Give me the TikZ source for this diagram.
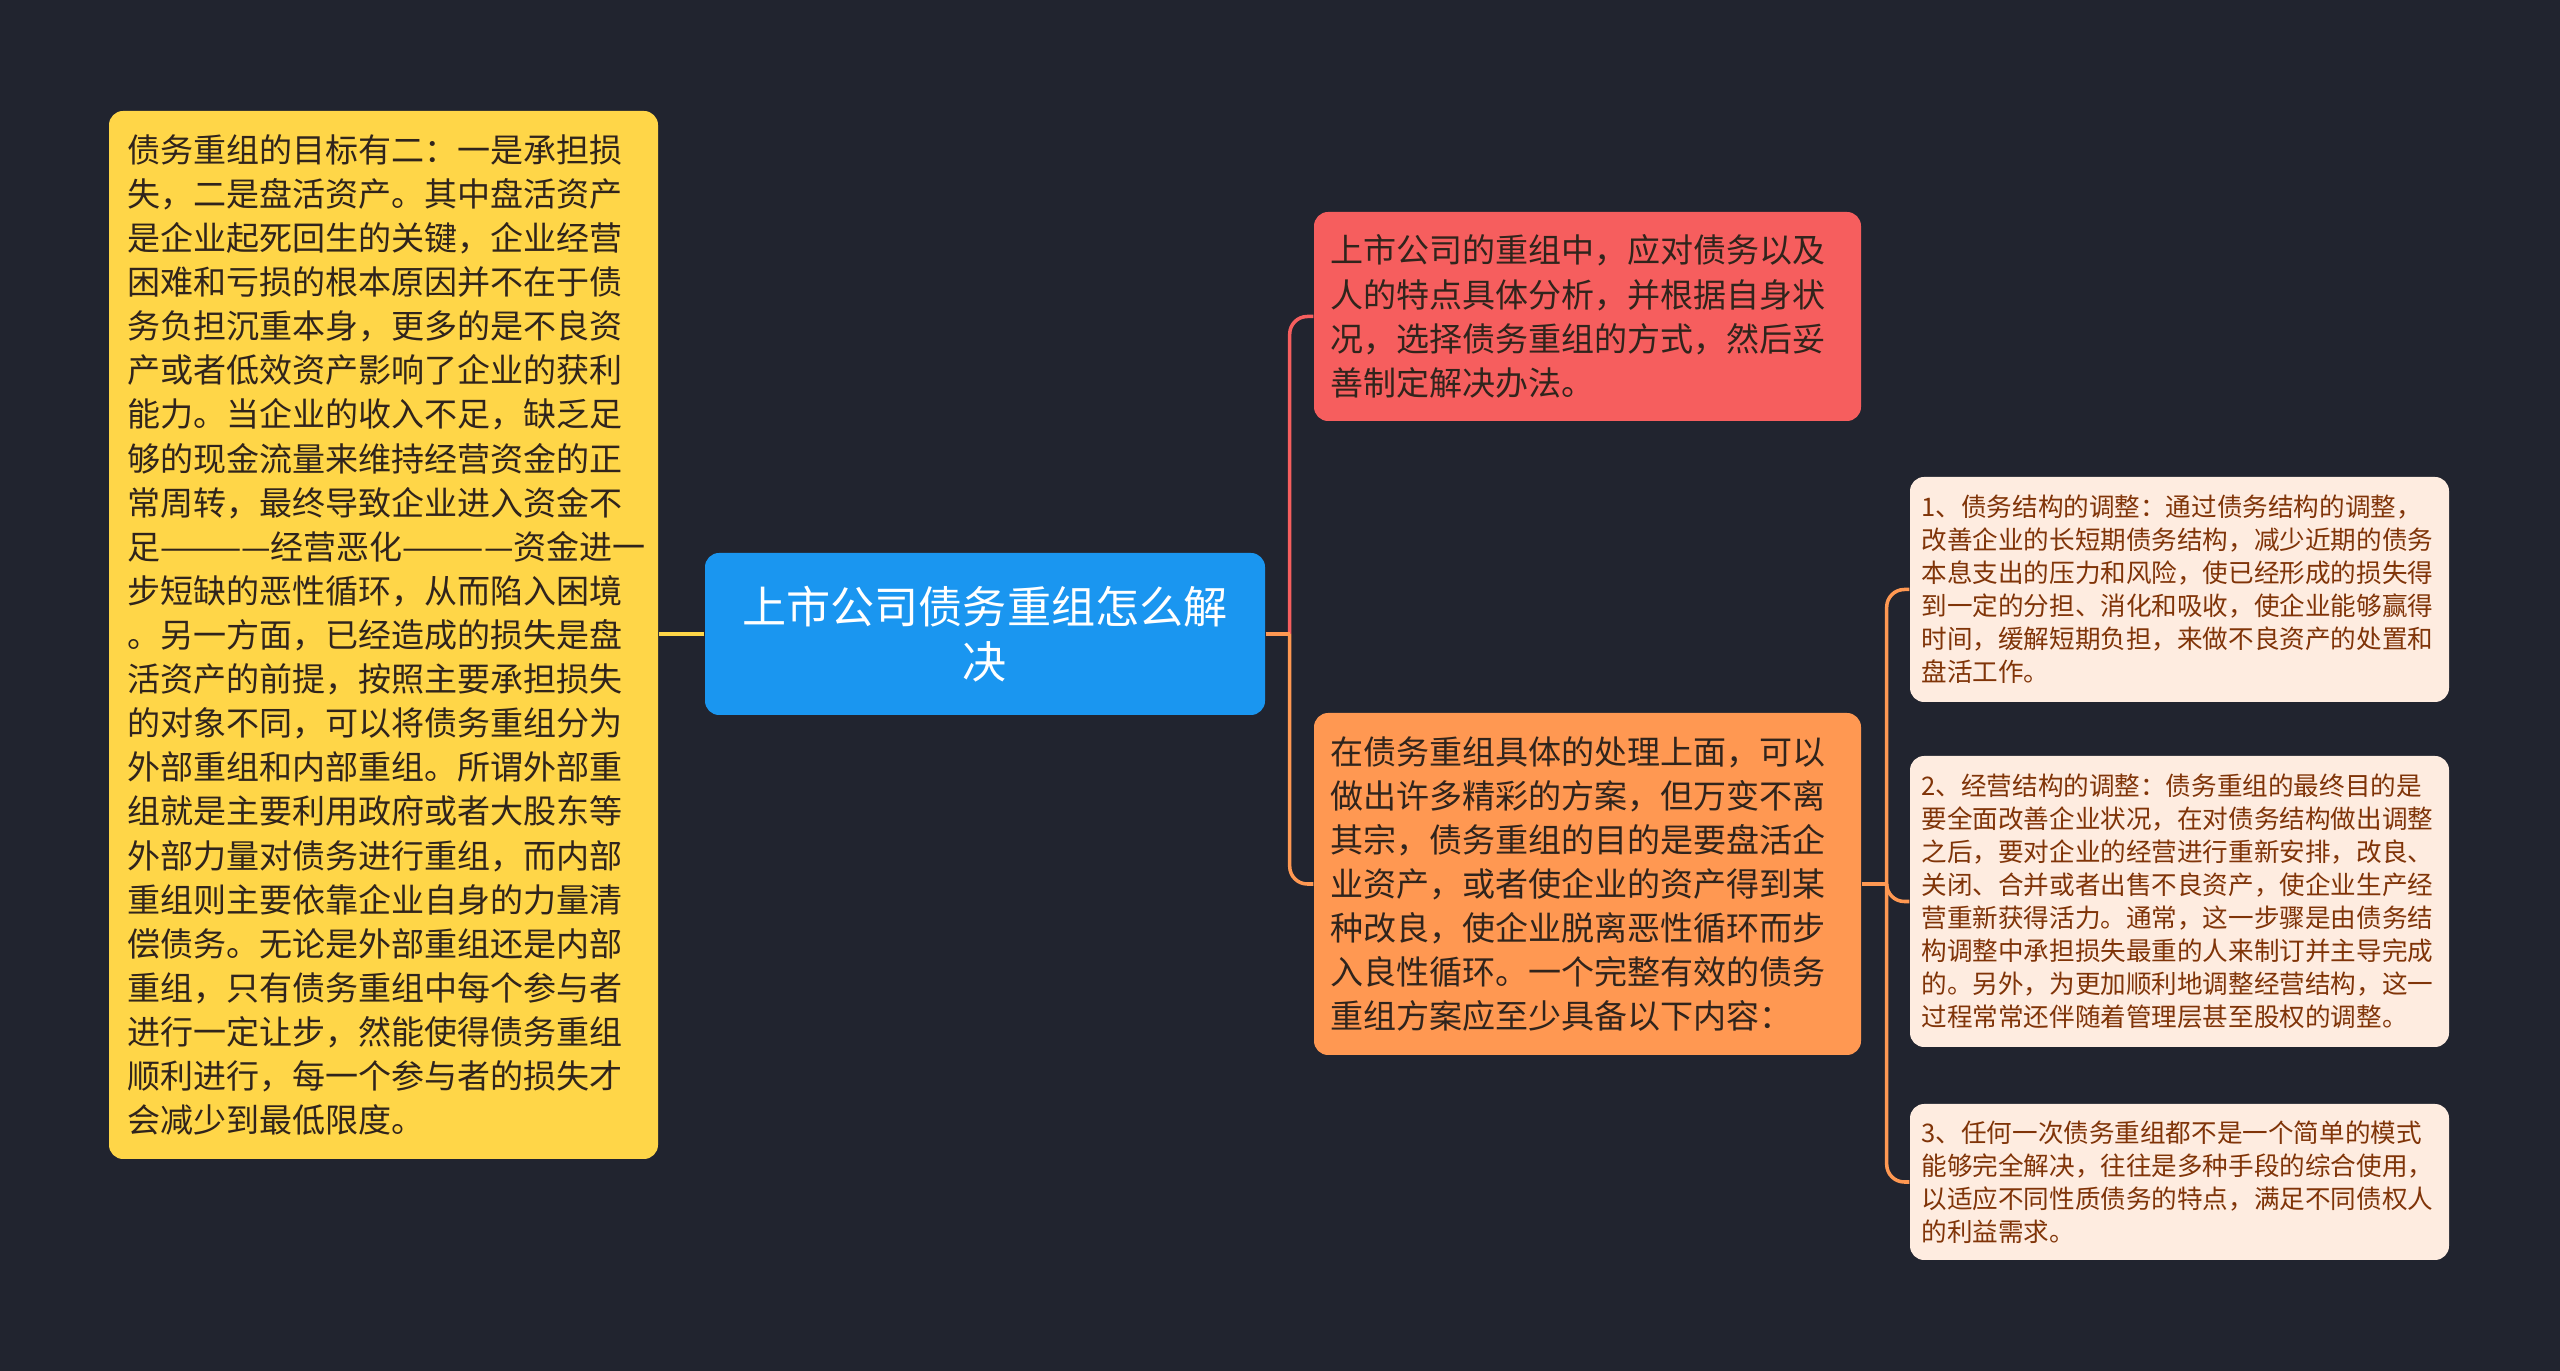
\documentclass[tikz,border=0pt]{standalone}
\usepackage{fontspec}
\setmainfont{Noto Sans CJK SC}
\usepackage{tikz}
\usetikzlibrary{positioning}
\usepackage{xcolor}
\definecolor{mapNavy}{RGB}{33,36,47}
\definecolor{mapBlue}{RGB}{26,150,240}
\definecolor{mapYellow}{RGB}{255,214,72}
\definecolor{mapRed}{RGB}{246,94,94}
\definecolor{mapOrange}{RGB}{255,152,82}
\definecolor{mapCream}{RGB}{254,236,224}
\definecolor{mapInk}{RGB}{48,36,28}
\definecolor{mapBrown}{RGB}{128,52,8}

\begin{document}
\begin{tikzpicture}[
        topic/.style={rounded corners=4pt, align=left, text=mapInk, inner ysep=0pt,
          font=\fontsize{9.4pt}{12.55pt}\selectfont},
        leaf/.style={topic, fill=mapCream, text=mapBrown, text width=5.16cm,
          inner xsep=0.115cm, font=\fontsize{7.28pt}{9.4pt}\selectfont},
        link/.style={line width=1pt, rounded corners=5pt}
      ]
        % background and page size
        \fill[mapNavy] (0,0) rectangle (25.6,13.71);

        % root
        \node[topic, fill=mapBlue, text=white, align=center, text width=5.2cm,
          inner xsep=0.2cm, minimum height=1.62cm,
          font=\fontsize{12.55pt}{15.8pt}\selectfont] (root) at (9.85,7.37)
          {上市公司债务重组怎么解\\决};

        % left topic
        \node[topic, fill=mapYellow, text width=5.13cm, inner xsep=0.18cm,
          minimum height=10.48cm] (goal) at (3.835,7.36) {%
          债务重组的目标有二：一是承担损\\
          失，二是盘活资产。其中盘活资产\\
          是企业起死回生的关键，企业经营\\
          困难和亏损的根本原因并不在于债\\
          务负担沉重本身，更多的是不良资\\
          产或者低效资产影响了企业的获利\\
          能力。当企业的收入不足，缺乏足\\
          够的现金流量来维持经营资金的正\\
          常周转，最终导致企业进入资金不\\
          \mbox{足————经营恶化————资金进一}\\
          步短缺的恶性循环，从而陷入困境\\
          。另一方面，已经造成的损失是盘\\
          活资产的前提，按照主要承担损失\\
          的对象不同，可以将债务重组分为\\
          外部重组和内部重组。所谓外部重\\
          组就是主要利用政府或者大股东等\\
          外部力量对债务进行重组，而内部\\
          重组则主要依靠企业自身的力量清\\
          偿债务。无论是外部重组还是内部\\
          重组，只有债务重组中每个参与者\\
          进行一定让步，然能使得债务重组\\
          顺利进行，每一个参与者的损失才\\
          会减少到最低限度。};

        % right topics
        \node[topic, fill=mapRed, text width=5.15cm, inner xsep=0.16cm,
          minimum height=2.09cm] (analyse) at (15.875,10.545) {%
          上市公司的重组中，应对债务以及\\
          人的特点具体分析，并根据自身状\\
          况，选择债务重组的方式，然后妥\\
          善制定解决办法。};
        \node[topic, fill=mapOrange, text width=5.15cm, inner xsep=0.16cm,
          minimum height=3.42cm] (plan) at (15.875,4.87) {%
          在债务重组具体的处理上面，可以\\
          做出许多精彩的方案，但万变不离\\
          其宗，债务重组的目的是要盘活企\\
          业资产，或者使企业的资产得到某\\
          种改良，使企业脱离恶性循环而步\\
          入良性循环。一个完整有效的债务\\
          重组方案应至少具备以下内容：};

        % plan contents
        \node[leaf, minimum height=2.25cm] (debt) at (21.795,7.815) {%
          1、债务结构的调整：通过债务结构的调整，\\
          改善企业的长短期债务结构，减少近期的债务\\
          本息支出的压力和风险，使已经形成的损失得\\
          到一定的分担、消化和吸收，使企业能够赢得\\
          时间，缓解短期负担，来做不良资产的处置和\\
          盘活工作。};
        \node[leaf, minimum height=2.91cm] (ops) at (21.795,4.695) {%
          2、经营结构的调整：债务重组的最终目的是\\
          要全面改善企业状况，在对债务结构做出调整\\
          之后，要对企业的经营进行重新安排，改良、\\
          关闭、合并或者出售不良资产，使企业生产经\\
          营重新获得活力。通常，这一步骤是由债务结\\
          构调整中承担损失最重的人来制订并主导完成\\
          的。另外，为更加顺利地调整经营结构，这一\\
          过程常常还伴随着管理层甚至股权的调整。};
        \node[leaf, minimum height=1.56cm] (mix) at (21.795,1.89) {%
          3、任何一次债务重组都不是一个简单的模式\\
          能够完全解决，往往是多种手段的综合使用，\\
          以适应不同性质债务的特点，满足不同债权人\\
          的利益需求。};

        % links
        \coordinate (hubRoot) at ([xshift=0.24cm]root.east);
        \coordinate (hubPlan) at ([xshift=0.25cm]plan.east);
        \draw[link, mapYellow] (root.west) -- (root.west -| goal.east);
        \draw[link, mapRed] (hubRoot) |- (analyse.west);
        \draw[link, mapOrange] (root.east) -- (hubRoot);
        \draw[link, mapOrange] (hubRoot) |- (plan.west);
        \draw[link, mapOrange] (plan.east) -- (hubPlan);
        \foreach \leafname in {debt,ops,mix}
          \draw[link, mapOrange] (hubPlan) |- (\leafname.west);
      \end{tikzpicture}
\end{document}
